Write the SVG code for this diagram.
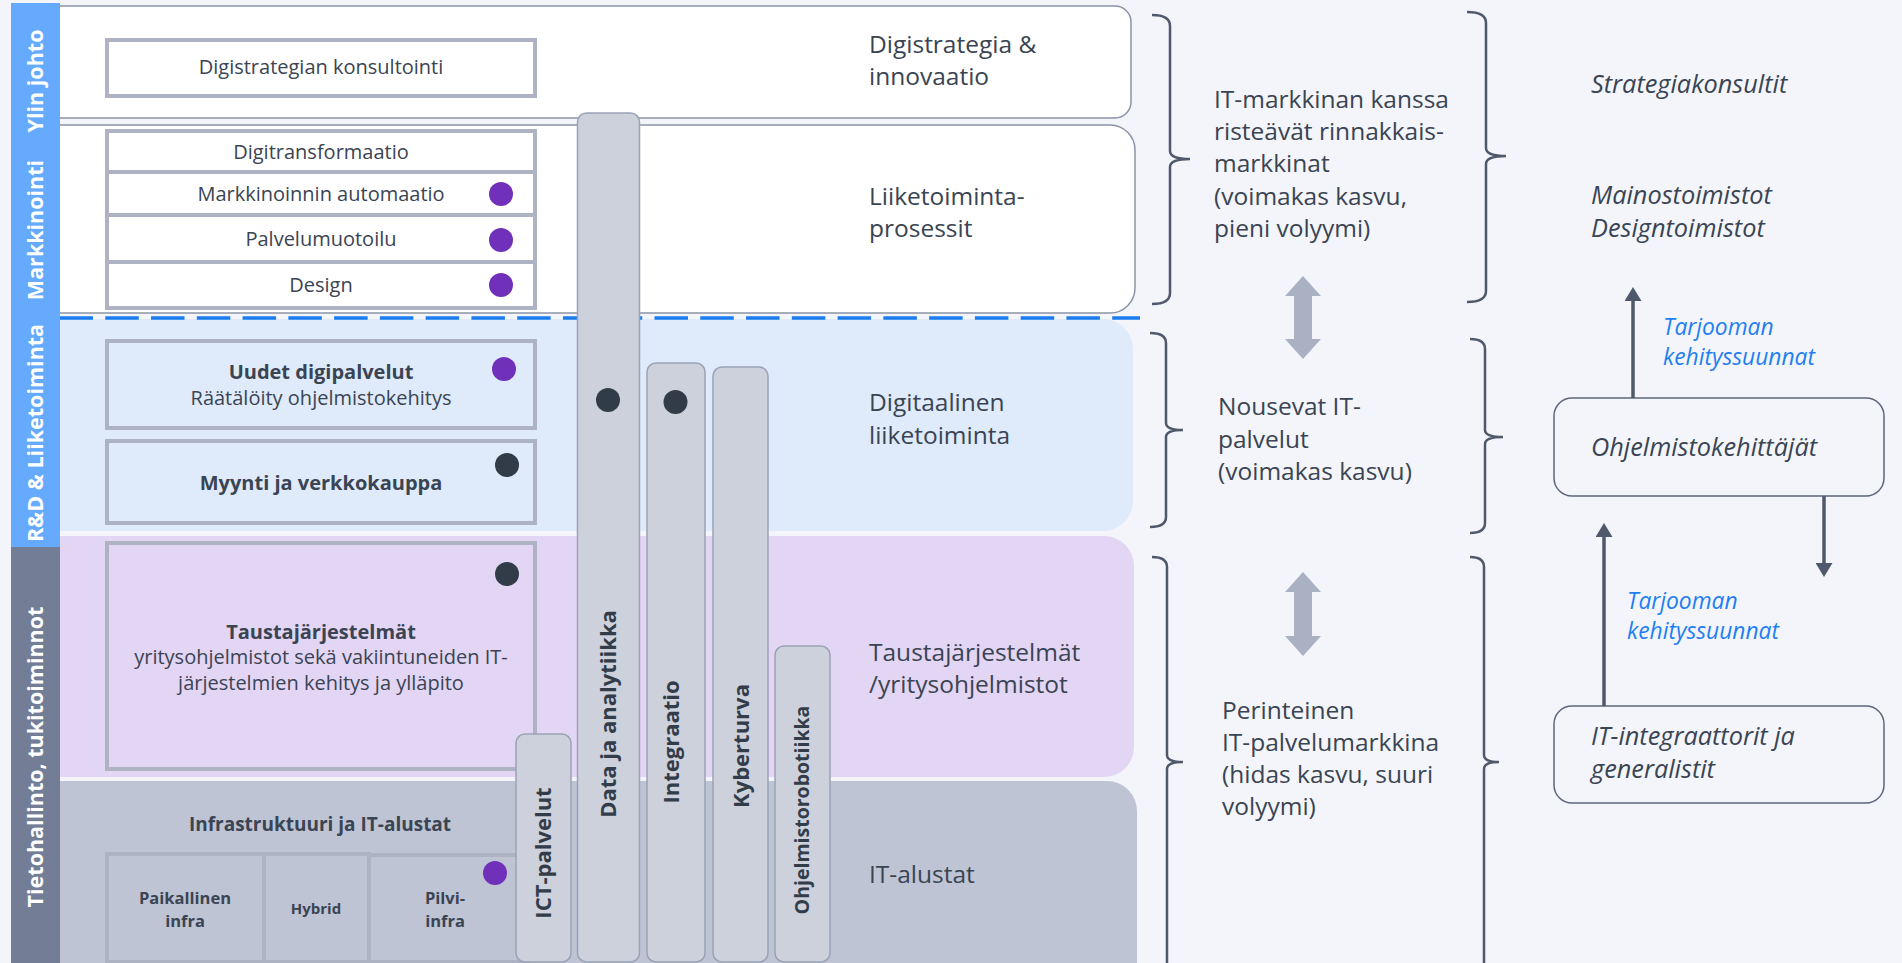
<svg xmlns="http://www.w3.org/2000/svg" width="1902" height="963" viewBox="0 0 1902 963">
<style>
.t{font-family:"Open Sans","Liberation Sans",sans-serif;fill:#3a4453}
.lbl{font-size:24.5px}
.bx{font-size:20px;text-anchor:middle}
.b{font-weight:bold}
.vl{font-family:"Open Sans","Liberation Sans",sans-serif;font-weight:bold;font-size:21.5px;fill:#ffffff;text-anchor:middle}
.col{font-family:"Open Sans","Liberation Sans",sans-serif;font-weight:bold;font-size:22px;fill:#333d4a;text-anchor:middle}
.it{font-style:italic;font-size:25.3px}
.blu{font-family:"Open Sans","Liberation Sans",sans-serif;font-style:italic;font-size:22.8px;fill:#1f7ff2}
.ib{fill:none;stroke:#adb3c3;stroke-width:4}
.cl{fill:#cdd1dc;stroke:#9aa3b6;stroke-width:1.5}
.pd{fill:#7130b9}
.dd{fill:#323c48}
.br{fill:none;stroke:#4f596b;stroke-width:2.5}
.ga{fill:#aab1c3}
.da{fill:none;stroke:#4f596b;stroke-width:3.5}
.rb{fill:#f3f5fa;stroke:#5d6779;stroke-width:1.5}
</style>
<defs>
<marker id="ah" viewBox="0 0 14 17" refX="10" refY="8.5" markerWidth="14" markerHeight="17" markerUnits="userSpaceOnUse" orient="auto">
<path d="M0,0 L14,8.5 L0,17 z" fill="#4f596b"/>
</marker>
</defs>
<rect x="0" y="0" width="1902" height="963" fill="#f3f5fa"/>

<g id="bands">
<rect x="30" y="6" width="1101" height="112" rx="16" fill="#ffffff" stroke="#8b94a7" stroke-width="1.5"/>
<rect x="30" y="125" width="1105" height="188" rx="25" fill="#ffffff" stroke="#8b94a7" stroke-width="1.5"/>
<rect x="30" y="319" width="1103" height="212" rx="30" fill="#dfeafb"/>
<rect x="30" y="536" width="1104" height="241" rx="30" fill="#e3d5f4"/>
<rect x="30" y="781" width="1107" height="220" rx="30" fill="#bec4d4"/>
<line x1="59.5" y1="318" x2="1140" y2="318" stroke="#1a7cf0" stroke-width="3.5" stroke-dasharray="33.5 12.27"/>
</g>

<g id="side-labels">
<g id="lbl-ylin"><rect x="11" y="3" width="49" height="147" fill="#66aafe"/><text class="vl" transform="translate(43,81) rotate(-90)">Ylin johto</text></g>
<g id="lbl-markkinointi"><rect x="11" y="150" width="49" height="168" fill="#66aafe"/><text class="vl" transform="translate(43,230) rotate(-90)">Markkinointi</text></g>
<g id="lbl-rd"><rect x="11" y="318" width="49" height="229" fill="#66aafe"/><text class="vl" transform="translate(43,433) rotate(-90)">R&amp;D &amp; Liiketoiminta</text></g>
<g id="lbl-tieto"><rect x="11" y="547" width="49" height="416" fill="#737e96"/><text class="vl" transform="translate(43,757) rotate(-90)">Tietohallinto, tukitoiminnot</text></g>
</g>

<g id="band-labels" class="t lbl">
<text x="869" y="53">Digistrategia &amp;</text>
<text x="869" y="85">innovaatio</text>
<text x="869" y="205">Liiketoiminta-</text>
<text x="869" y="237">prosessit</text>
<text x="869" y="411">Digitaalinen</text>
<text x="869" y="444">liiketoiminta</text>
<text x="869" y="661">Taustajärjestelmät</text>
<text x="869" y="693">/yritysohjelmistot</text>
<text x="869" y="883">IT-alustat</text>
</g>

<g id="box-digistrategia"><rect class="ib" x="107" y="40" width="428" height="56"/><text class="t bx" x="321" y="74">Digistrategian konsultointi</text></g>
<g id="box-digitransformaatio"><rect class="ib" x="107" y="131" width="428" height="41"/><text class="t bx" x="321" y="159">Digitransformaatio</text></g>
<g id="box-markkinoinnin"><rect class="ib" x="107" y="172" width="428" height="43"/><text class="t bx" x="321" y="201">Markkinoinnin automaatio</text><circle class="pd" cx="501" cy="194" r="12"/></g>
<g id="box-palvelumuotoilu"><rect class="ib" x="107" y="215" width="428" height="47"/><text class="t bx" x="321" y="246">Palvelumuotoilu</text><circle class="pd" cx="501" cy="240" r="12"/></g>
<g id="box-design"><rect class="ib" x="107" y="262" width="428" height="46"/><text class="t bx" x="321" y="292">Design</text><circle class="pd" cx="501" cy="285" r="12"/></g>

<g id="box-uudet"><rect class="ib" x="107" y="341" width="428" height="87"/><text class="t bx b" x="321" y="379">Uudet digipalvelut</text><text class="t bx" x="321" y="405">Räätälöity ohjelmistokehitys</text><circle class="pd" cx="504" cy="369" r="12"/></g>
<g id="box-myynti"><rect class="ib" x="107" y="441" width="428" height="82"/><text class="t bx b" x="321" y="490">Myynti ja verkkokauppa</text><circle class="dd" cx="507" cy="465" r="12"/></g>
<g id="box-tausta"><rect class="ib" x="107" y="543" width="428" height="226"/><text class="t bx b" x="321" y="639">Taustajärjestelmät</text><text class="t bx" x="321" y="664">yritysohjelmistot sekä vakiintuneiden IT-</text><text class="t bx" x="321" y="690">järjestelmien kehitys ja ylläpito</text><circle class="dd" cx="507" cy="574" r="12"/></g>

<g id="infra">
<text class="t bx b" x="320" y="831" style="font-size:19px">Infrastruktuuri ja IT-alustat</text>
<g id="box-paikallinen"><rect class="ib" x="107" y="854" width="157" height="108"/><text class="t bx b" x="185" y="904" style="font-size:16.5px">Paikallinen</text><text class="t bx b" x="185" y="927" style="font-size:16.5px">infra</text></g>
<g id="box-hybrid"><rect class="ib" x="264" y="854" width="105" height="108"/><text class="t bx b" x="316" y="914" style="font-size:15px">Hybrid</text></g>
<g id="box-pilvi"><rect class="ib" x="369" y="855" width="160" height="107"/><text class="t bx b" x="445" y="904" style="font-size:16.5px">Pilvi-</text><text class="t bx b" x="445" y="927" style="font-size:16.5px">infra</text><circle class="pd" cx="495" cy="873" r="12"/></g>
</g>

<g id="col-ict"><rect class="cl" x="516" y="734" width="55" height="228" rx="9"/><text class="col" transform="translate(551,853) rotate(-90)">ICT-palvelut</text></g>
<g id="col-data"><rect class="cl" x="577.5" y="113" width="62" height="849" rx="9"/><text class="col" transform="translate(616,714) rotate(-90)">Data ja analytiikka</text><circle class="dd" cx="608" cy="400" r="12"/></g>
<g id="col-integraatio"><rect class="cl" x="647" y="363" width="58" height="599" rx="9"/><text class="col" transform="translate(679,742) rotate(-90)">Integraatio</text><circle class="dd" cx="675.5" cy="402" r="12"/></g>
<g id="col-kyberturva"><rect class="cl" x="713" y="367" width="55" height="595" rx="9"/><text class="col" transform="translate(749,746) rotate(-90)">Kyberturva</text></g>
<g id="col-ohjelmisto"><rect class="cl" x="775" y="646" width="55" height="316" rx="9"/><text class="col" transform="translate(809,810) rotate(-90)" style="font-size:19.5px">Ohjelmistorobotiikka</text></g>

<g id="market-texts" class="t lbl">
<text x="1214" y="108">IT-markkinan kanssa</text>
<text x="1214" y="140">risteävät rinnakkais-</text>
<text x="1214" y="172">markkinat</text>
<text x="1214" y="205">(voimakas kasvu,</text>
<text x="1214" y="237">pieni volyymi)</text>
<text x="1218" y="415">Nousevat IT-</text>
<text x="1218" y="448">palvelut</text>
<text x="1218" y="480">(voimakas kasvu)</text>
<text x="1222" y="719">Perinteinen</text>
<text x="1222" y="751">IT-palvelumarkkina</text>
<text x="1222" y="783">(hidas kasvu, suuri</text>
<text x="1222" y="815">volyymi)</text>
</g>

<g id="provider-texts" class="t it">
<text x="1591" y="93">Strategiakonsultit</text>
<text x="1591" y="204">Mainostoimistot</text>
<text x="1591" y="237">Designtoimistot</text>
</g>

<g id="node-ohjelmistokehittajat"><rect class="rb" x="1554" y="398" width="330" height="98" rx="18"/><text class="t it" x="1591" y="456">Ohjelmistokehittäjät</text></g>
<g id="node-integraattorit"><rect class="rb" x="1554" y="706" width="330" height="97" rx="18"/><text class="t it" x="1591" y="745">IT-integraattorit ja</text><text class="t it" x="1591" y="778">generalistit</text></g>

<g id="connectors">
<path class="br" d="M1152,15 Q1170,15 1170,26 L1170,151 Q1170,159 1190,159 Q1170,159 1170,167 L1170,293 Q1170,304 1152,304"/>
<path class="br" d="M1467,12 Q1486,12 1486,23 L1486,148 Q1486,156 1506,156 Q1486,156 1486,164 L1486,291 Q1486,302 1467,302"/>
<path class="br" d="M1150,333 Q1166,333 1166,343 L1166,423 Q1166,430 1183,430 Q1166,430 1166,437 L1166,517 Q1166,527 1150,527"/>
<path class="br" d="M1470,339 Q1485,339 1485,349 L1485,430 Q1485,437 1503,437 Q1485,437 1485,444 L1485,523 Q1485,533 1470,533"/>
<path class="br" d="M1152,557 Q1167,557 1167,567 L1167,755 Q1167,762 1183,762 Q1167,762 1167,769 L1167,975"/>
<path class="br" d="M1470,557 Q1484,557 1484,567 L1484,755 Q1484,762 1499,762 Q1484,762 1484,769 L1484,975"/>
<path class="ga" d="M1303,276 L1321,296 L1312,296 L1312,339 L1321,339 L1303,359 L1285,339 L1294,339 L1294,296 L1285,296 Z"/>
<path class="ga" d="M1303,572 L1321,592 L1312,592 L1312,636 L1321,636 L1303,656 L1285,636 L1294,636 L1294,592 L1285,592 Z"/>
<line class="da" x1="1633" y1="398" x2="1633" y2="291" marker-end="url(#ah)"/>
<line class="da" x1="1824" y1="496" x2="1824" y2="573" marker-end="url(#ah)"/>
<line class="da" x1="1604" y1="706" x2="1604" y2="527" marker-end="url(#ah)"/>
<text class="blu" x="1663" y="335">Tarjooman</text>
<text class="blu" x="1663" y="365">kehityssuunnat</text>
<text class="blu" x="1627" y="609">Tarjooman</text>
<text class="blu" x="1627" y="639">kehityssuunnat</text>
</g>
</svg>
